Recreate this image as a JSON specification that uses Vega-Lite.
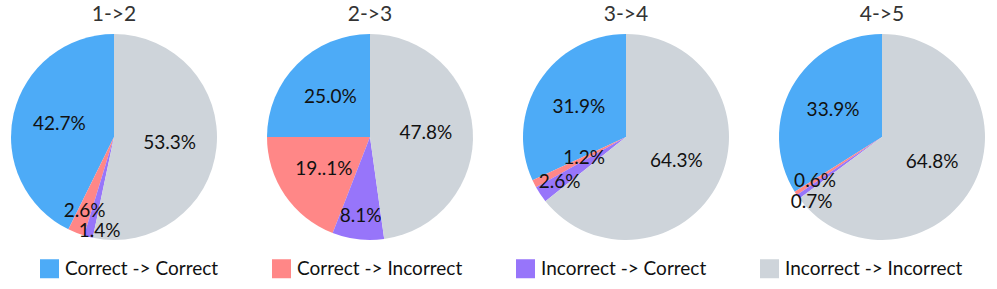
{
  "$schema": "https://vega.github.io/schema/vega-lite/v6.json",
  "background": "white",
  "padding": {"left": 11, "right": 5, "top": 4, "bottom": 5},
  "data": {"values": [
    {"step": "1->2", "cat": "Correct -> Correct", "pct": 42.7, "label": "42.7%"},
    {"step": "1->2", "cat": "Correct -> Incorrect", "pct": 2.6, "label": "2.6%"},
    {"step": "1->2", "cat": "Incorrect -> Correct", "pct": 1.4, "label": "1.4%"},
    {"step": "1->2", "cat": "Incorrect -> Incorrect", "pct": 53.3, "label": "53.3%"},
    {"step": "2->3", "cat": "Correct -> Correct", "pct": 25.0, "label": "25.0%"},
    {"step": "2->3", "cat": "Correct -> Incorrect", "pct": 19.1, "label": "19..1%"},
    {"step": "2->3", "cat": "Incorrect -> Correct", "pct": 8.1, "label": "8.1%"},
    {"step": "2->3", "cat": "Incorrect -> Incorrect", "pct": 47.8, "label": "47.8%"},
    {"step": "3->4", "cat": "Correct -> Correct", "pct": 31.9, "label": "31.9%"},
    {"step": "3->4", "cat": "Correct -> Incorrect", "pct": 1.2, "label": "1.2%"},
    {"step": "3->4", "cat": "Incorrect -> Correct", "pct": 2.6, "label": "2.6%"},
    {"step": "3->4", "cat": "Incorrect -> Incorrect", "pct": 64.3, "label": "64.3%"},
    {"step": "4->5", "cat": "Correct -> Correct", "pct": 33.9, "label": "33.9%"},
    {"step": "4->5", "cat": "Correct -> Incorrect", "pct": 0.6, "label": "0.6%"},
    {"step": "4->5", "cat": "Incorrect -> Correct", "pct": 0.7, "label": "0.7%"},
    {"step": "4->5", "cat": "Incorrect -> Incorrect", "pct": 64.8, "label": "64.8%"}
  ]},
  "facet": {
    "column": {
      "field": "step", "type": "nominal", "sort": ["1->2", "2->3", "3->4", "4->5"],
      "header": {"title": null, "labelFontSize": 21, "labelFont": "Lato", "labelColor": "#333333", "labelPadding": 9}
    }
  },
  "spacing": 50,
  "spec": {
    "width": 206,
    "height": 206,
    "encoding": {
      "theta": {"field": "pct", "type": "quantitative", "stack": true, "scale": {"domain": [0, 100]}},
      "order": {"field": "cat", "sort": "descending"}
    },
    "layer": [
      {
        "mark": {"type": "arc", "outerRadius": 103},
        "encoding": {
          "color": {
            "field": "cat", "type": "nominal",
            "scale": {
              "domain": ["Correct -> Correct", "Correct -> Incorrect", "Incorrect -> Correct", "Incorrect -> Incorrect"],
              "range": ["#4dabf7", "#ff8787", "#9775fa", "#ced4da"]
            },
            "legend": {
              "orient": "none", "legendX": 29, "legendY": 225, "direction": "horizontal", "title": null,
              "symbolType": "square", "symbolSize": 361, "symbolStrokeWidth": 0,
              "labelFontSize": 19, "labelFont": "Lato", "labelColor": "#111111", "labelLimit": 400,
              "columnPadding": 53, "labelOffset": 6
            }
          }
        }
      },
      {
        "mark": {"type": "text", "radius": 56, "font": "Lato", "fontSize": 19, "color": "#111111", "align": "center", "baseline": "middle"},
        "encoding": {"text": {"condition": {"test": "datum.pct >= 10", "field": "label"}, "value": ""}}
      },
      {
        "mark": {"type": "text", "radius": 80, "font": "Lato", "fontSize": 19, "color": "#111111", "align": "center", "baseline": "middle"},
        "encoding": {"text": {"condition": {"test": "datum.pct < 10 && !(datum.step == '3->4' && datum.cat == 'Correct -> Incorrect') && !((datum.step == '1->2' || datum.step == '4->5') && datum.cat == 'Incorrect -> Correct')", "field": "label"}, "value": ""}}
      },
      {
        "mark": {"type": "text", "radius": 47, "font": "Lato", "fontSize": 19, "color": "#111111", "align": "center", "baseline": "middle"},
        "encoding": {"text": {"condition": {"test": "datum.step == '3->4' && datum.cat == 'Correct -> Incorrect'", "field": "label"}, "value": ""}}
      },
      {
        "mark": {"type": "text", "radius": 94, "dx": 9, "dy": 3, "font": "Lato", "fontSize": 19, "color": "#111111", "align": "center", "baseline": "middle"},
        "encoding": {"text": {"condition": {"test": "datum.step == '1->2' && datum.cat == 'Incorrect -> Correct'", "field": "label"}, "value": ""}}
      },
      {
        "mark": {"type": "text", "radius": 90, "dx": 3, "dy": 13, "font": "Lato", "fontSize": 19, "color": "#111111", "align": "center", "baseline": "middle"},
        "encoding": {"text": {"condition": {"test": "datum.step == '4->5' && datum.cat == 'Incorrect -> Correct'", "field": "label"}, "value": ""}}
      }
    ]
  },
  "config": {"view": {"stroke": null}}
}
